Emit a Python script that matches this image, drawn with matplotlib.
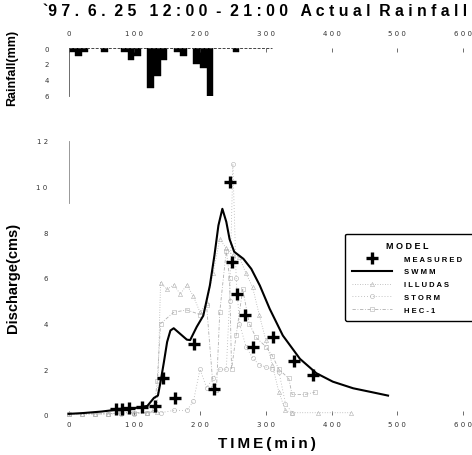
import matplotlib
matplotlib.use('Agg')
import matplotlib.pyplot as plt

# rainfall, 10-min blocks (mm)
rain_t = [0, 10, 20, 50, 80, 90, 100, 120, 130, 140, 160, 170, 190, 200, 210, 250]
rain_mm = [0.5, 1.0, 0.5, 0.5, 0.5, 1.5, 1.0, 5.0, 3.5, 1.5, 0.5, 1.0, 2.0, 2.5, 6.0, 0.5]

# measured discharge (cms)
meas_t = [73, 82, 92, 112, 131, 144, 162, 191, 222, 246, 249, 257, 268, 281, 311, 343, 372]
meas_q = [0.25, 0.27, 0.3, 0.34, 0.4, 1.6, 0.76, 3.1, 1.14, 10.2, 6.7, 5.3, 4.36, 2.97, 3.43, 2.35, 1.77]

# SWMM
swmm_t = [0, 20, 50, 70, 100, 120, 130, 136, 140, 145, 150, 155, 160, 170, 180, 185, 195, 205, 215,
          222, 228, 234, 240, 245, 252, 256, 266, 278, 291, 306, 326, 352, 377, 402, 433, 463, 486]
swmm_q = [0.05, 0.08, 0.15, 0.22, 0.3, 0.4, 0.75, 0.85, 1.45, 2.3, 3.2, 3.7, 3.8, 3.55, 3.3, 3.28, 3.86,
          4.35, 5.67, 7.0, 8.3, 9.03, 8.46, 7.7, 7.15, 7.06, 6.84, 6.4, 5.67, 4.65, 3.48, 2.46, 1.83,
          1.46, 1.17, 0.99, 0.85]

# ILLUDAS
ill_t = [0, 20, 40, 60, 80, 100, 120, 135, 140, 150, 160, 170, 180, 190, 200, 210, 220, 230, 240,
         250, 260, 270, 280, 290, 300, 310, 320, 330, 340, 380, 430]
ill_q = [0.05, 0.05, 0.05, 0.05, 0.1, 0.1, 0.1, 0.15, 5.8, 5.5, 5.7, 5.3, 5.7, 5.2, 4.5, 4.9, 6.2,
         7.7, 7.3, 7.0, 6.9, 6.2, 5.6, 4.4, 3.3, 2.2, 1.0, 0.2, 0.1, 0.1, 0.1]

# STORM
storm_t = [0, 20, 40, 60, 80, 100, 120, 140, 160, 180, 190, 200, 210, 220, 230, 240, 245, 250, 255,
           260, 270, 280, 290, 300, 310, 320, 330, 340]
storm_q = [0.05, 0.05, 0.05, 0.05, 0.05, 0.05, 0.1, 0.1, 0.2, 0.2, 0.6, 2.0, 1.2, 1.6, 2.0, 2.0,
           5.0, 11.0, 6.0, 4.0, 3.0, 2.5, 2.2, 2.1, 2.0, 1.9, 0.5, 0.1]

# HEC-1
hec_t = [0, 20, 40, 60, 80, 100, 120, 130, 135, 140, 160, 180, 200, 210, 220, 225, 230, 240, 245,
         248, 255, 265, 275, 285, 300, 310, 320, 335, 340, 360, 375]
hec_q = [0.05, 0.05, 0.05, 0.05, 0.1, 0.1, 0.1, 0.2, 1.5, 4.0, 4.5, 4.6, 4.4, 4.8, 1.2, 1.1, 4.5,
         7.2, 6.0, 2.0, 3.5, 5.5, 4.0, 3.4, 3.0, 2.6, 2.0, 1.6, 0.9, 0.9, 1.0]

xticks = [0, 100, 200, 300, 400, 500, 600]
spaced = lambda s: ' '.join(s)
grey = '#b0b0b0'

plt.rcParams['font.family'] = ['Liberation Sans', 'DejaVu Sans']
fig = plt.figure(figsize=(4.72, 4.56), dpi=100)

# rainfall panel
axr = fig.add_axes([68.5 / 472, 1 - 96.5 / 456, 394.5 / 472, 47.5 / 456])
axr.bar(rain_t, rain_mm, width=10, align='edge', color='black', edgecolor='black', linewidth=0.3)
axr.axhline(0, xmin=0, xmax=310 / 600, color='#444444', lw=0.7, ls=(0, (3, 1.5)))
axr.set_xlim(0, 600)
axr.set_ylim(6, 0)
for s in ['top', 'right', 'bottom']:
    axr.spines[s].set_visible(False)
axr.spines['left'].set_linewidth(0.6)
axr.spines['left'].set_color('#555555')
axr.xaxis.tick_top()
axr.set_xticks(xticks)
axr.set_xticklabels([spaced(str(v)) for v in xticks], fontsize=5, family='DejaVu Sans')
axr.tick_params(axis='x', length=3, width=0.5, direction='in', pad=9, colors='#333333')
axr.set_yticks([0, 2, 4, 6])
axr.set_yticklabels(['0', '2', '4', '6'], fontsize=5, family='DejaVu Sans')
axr.tick_params(axis='y', length=0, pad=14, colors='#333333')
fig.text(12 / 472, 1 - 68 / 456, 'Rainfall(mm)', rotation=90, fontsize=9, fontweight='bold',
         ha='center', va='center')

# discharge panel
ax = fig.add_axes([68.5 / 472, 1 - 416 / 456, 394.5 / 472, 274 / 456])
ax.plot(ill_t, ill_q, color=grey, lw=0.6, ls=(0, (1, 2)), marker='^', ms=3, mfc='none',
        mec=grey, mew=0.4, clip_on=False, label=spaced('ILLUDAS'))
ax.plot(storm_t, storm_q, color=grey, lw=0.6, ls=(0, (1, 2.5)), marker='o', ms=3, mfc='none',
        mec=grey, mew=0.4, clip_on=False, label=spaced('STORM'))
ax.plot(hec_t, hec_q, color=grey, lw=0.6, ls=(0, (4, 2, 1, 2)), marker='s', ms=3, mfc='none',
        mec=grey, mew=0.4, clip_on=False, label=spaced('HEC-1'))
ax.plot(swmm_t, swmm_q, color='black', lw=1.5, clip_on=False, label=spaced('SWMM'))
ax.plot(meas_t, meas_q, ls='none', marker='+', ms=8, mew=2.4, color='black', clip_on=False,
        label=spaced('MEASURED'))

ax.set_xlim(0, 600)
ax.set_ylim(0, 12)
for s in ['top', 'right', 'bottom']:
    ax.spines[s].set_visible(False)
ax.spines['left'].set_bounds(9.3, 12)
ax.spines['left'].set_color('#888888')
ax.spines['left'].set_linewidth(0.6)
ax.set_xticks(xticks)
ax.set_xticklabels([spaced(str(v)) for v in xticks], fontsize=5, family='DejaVu Sans')
ax.tick_params(axis='x', length=3, width=0.5, direction='in', pad=4, colors='#333333')
ax.set_yticks(range(0, 13, 2))
ax.set_yticklabels([spaced(str(v)) for v in range(0, 13, 2)], fontsize=5, family='DejaVu Sans')
ax.tick_params(axis='y', length=0, pad=15, colors='#333333')

ax.set_xlabel('\u2009'.join('TIME(min)'), fontsize=11, fontweight='bold')
ax.xaxis.set_label_coords((267 - 68.5) / 394.5, -21 / 274)
fig.text(13 / 472, 1 - 278 / 456, 'Discharge(cms)', rotation=90, fontsize=10.5, fontweight='bold',
         ha='center', va='center')

handles, labels = ax.get_legend_handles_labels()
order = [4, 3, 0, 1, 2]
leg = ax.legend([handles[i] for i in order], [labels[i] for i in order],
                title=spaced('MODEL'), loc='upper left', bbox_to_anchor=(0.692, 0.0, 0.36, 0.675),
                mode='expand', fontsize=5.5, title_fontproperties={'size': 6.5, 'weight': 'bold'},
                handlelength=5.2, handletextpad=1.6, labelspacing=0.72, borderpad=0.9,
                frameon=True, fancybox=True, edgecolor='black', framealpha=1)
leg.get_frame().set_linewidth(1.0)
leg._legend_box.align = 'left'
leg.get_title().set_position((34, 0))
for t in leg.get_texts():
    t.set_fontweight('bold')

fig.text(43 / 472, 1 - 11 / 456,
         '`9 7 .  6 .  2 5   1 2 : 0 0  -  2 1 : 0 0   A c t u a l  R a i n f a l l',
         fontsize=11.4, fontweight='bold', ha='left', va='center')

fig.savefig('out.png', dpi=100)
